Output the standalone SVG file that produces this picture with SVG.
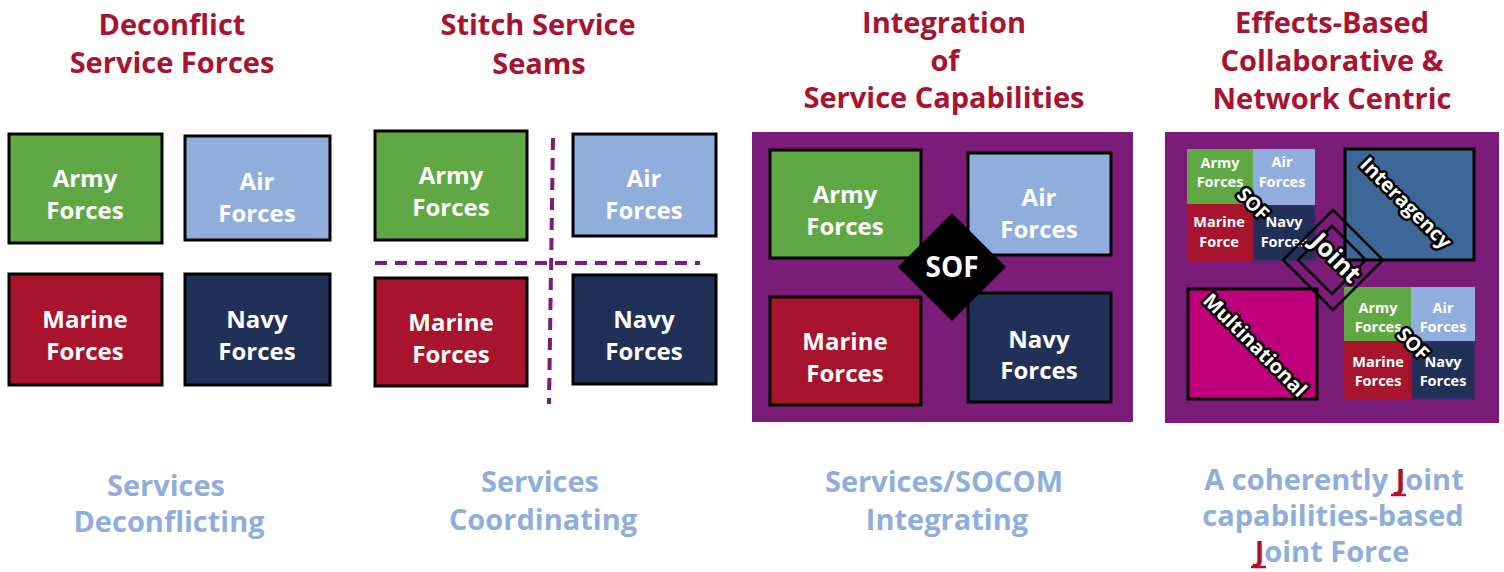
<svg xmlns="http://www.w3.org/2000/svg" width="1504" height="572" viewBox="0 0 1504 572">
<style>
.t{font-family:"Open Sans","Liberation Sans",sans-serif;font-weight:700;text-anchor:middle}
.title{fill:#A8132F;font-size:29px}
.sub{fill:#8FAEDC;font-size:29px}
.lbl{fill:#fff;font-size:24px}
.sm{fill:#fff;font-size:14.5px}
.ol{fill:#fff;stroke:#000;stroke-width:5px;paint-order:stroke;stroke-linejoin:round}
.box{stroke:#000;stroke-width:3}
.army{fill:#60A843}.air{fill:#8FAEDB}.marine{fill:#A8142D}.navy{fill:#213057}
.seam{stroke:#7C1C79;stroke-width:4;stroke-dasharray:12 8;fill:none}
.dia{fill:none;stroke:#000;stroke-width:2.5}
.ul{stroke:#A8132F;stroke-width:2.5}
</style>
<rect width="1504" height="572" fill="#fff"/>

<!-- Titles -->
<g id="titles" class="t title">
<text x="172" y="35">Deconflict</text>
<text x="172" y="73">Service Forces</text>
<text x="538" y="35">Stitch Service</text>
<text x="539" y="74">Seams</text>
<text x="944" y="33">Integration</text>
<text x="945" y="71">of</text>
<text x="944" y="108">Service Capabilities</text>
<text x="1332" y="33">Effects-Based</text>
<text x="1332" y="71">Collaborative &amp;</text>
<text x="1332" y="109">Network Centric</text>
</g>

<!-- Panel 1 -->
<g id="p1-army"><rect class="box army" x="9" y="134" width="153" height="109"/>
<text class="t lbl"><tspan x="85" y="187">Army</tspan><tspan x="85" y="219">Forces</tspan></text></g>
<g id="p1-air"><rect class="box air" x="185" y="136" width="145" height="104"/>
<text class="t lbl"><tspan x="257" y="190">Air</tspan><tspan x="257" y="222">Forces</tspan></text></g>
<g id="p1-marine"><rect class="box marine" x="9" y="274" width="153" height="111"/>
<text class="t lbl"><tspan x="85" y="328">Marine</tspan><tspan x="85" y="360">Forces</tspan></text></g>
<g id="p1-navy"><rect class="box navy" x="185" y="274" width="145" height="111"/>
<text class="t lbl"><tspan x="257" y="328">Navy</tspan><tspan x="257" y="360">Forces</tspan></text></g>

<!-- Panel 2 -->
<g id="p2-army"><rect class="box army" x="375" y="131" width="152" height="109"/>
<text class="t lbl"><tspan x="451" y="184">Army</tspan><tspan x="451" y="216">Forces</tspan></text></g>
<g id="p2-air"><rect class="box air" x="573" y="134" width="143" height="102"/>
<text class="t lbl"><tspan x="644" y="187">Air</tspan><tspan x="644" y="219">Forces</tspan></text></g>
<g id="p2-marine"><rect class="box marine" x="375" y="278" width="152" height="108"/>
<text class="t lbl"><tspan x="451" y="331">Marine</tspan><tspan x="451" y="363">Forces</tspan></text></g>
<g id="p2-navy"><rect class="box navy" x="573" y="275" width="143" height="109"/>
<text class="t lbl"><tspan x="644" y="328">Navy</tspan><tspan x="644" y="360">Forces</tspan></text></g>
<g id="p2-seams">
<line class="seam" x1="553" y1="138" x2="549" y2="404"/>
<line class="seam" x1="375" y1="263" x2="700" y2="263"/>
</g>

<!-- Panel 3 -->
<g id="p3-background"><rect x="752" y="132" width="381" height="290" fill="#7C1C79"/></g>
<g id="p3-army"><rect class="box army" x="770" y="150" width="151" height="108"/>
<text class="t lbl"><tspan x="845" y="203">Army</tspan><tspan x="845" y="235">Forces</tspan></text></g>
<g id="p3-air"><rect class="box air" x="968" y="153" width="143" height="102"/>
<text class="t lbl"><tspan x="1039" y="206">Air</tspan><tspan x="1039" y="238">Forces</tspan></text></g>
<g id="p3-marine"><rect class="box marine" x="770" y="297" width="151" height="108"/>
<text class="t lbl"><tspan x="845" y="350">Marine</tspan><tspan x="845" y="382">Forces</tspan></text></g>
<g id="p3-navy"><rect class="box navy" x="968" y="293" width="143" height="109"/>
<text class="t lbl"><tspan x="1039" y="348">Navy</tspan><tspan x="1039" y="379">Forces</tspan></text></g>
<g id="p3-sof"><polygon points="952,213 1006,267 952,321 898,267" fill="#000"/>
<text class="t" x="952" y="277" fill="#fff" font-size="28">SOF</text></g>

<!-- Panel 4 -->
<g id="p4-background"><rect x="1165" y="132" width="334" height="291" fill="#7C1C79"/></g>
<g id="p4-cluster-a">
<rect class="army" x="1187" y="149" width="66" height="55"/>
<rect class="air" x="1253" y="149" width="62" height="56"/>
<rect class="marine" x="1187" y="204" width="66" height="57"/>
<rect class="navy" x="1254" y="206" width="61" height="54" stroke="#3A2C6E" stroke-width="2"/>
<text class="t sm"><tspan x="1220" y="168">Army</tspan><tspan x="1220" y="187">Forces</tspan></text>
<text class="t sm"><tspan x="1282" y="167">Air</tspan><tspan x="1282" y="187">Forces</tspan></text>
<text class="t sm"><tspan x="1219" y="227">Marine</tspan><tspan x="1219" y="247">Force</tspan></text>
<text class="t sm"><tspan x="1284" y="227">Navy</tspan><tspan x="1284" y="247">Forces</tspan></text>
</g>
<g id="p4-interagency"><rect class="box" x="1345" y="149" width="129" height="111" fill="#3C6796"/></g>
<g id="p4-multinational"><rect class="box" x="1188" y="289" width="129" height="110" fill="#C0007A"/></g>
<g id="p4-cluster-b">
<rect class="army" x="1344" y="287" width="67" height="54"/>
<rect class="air" x="1411" y="287" width="64" height="54"/>
<rect class="marine" x="1344" y="341" width="67" height="59"/>
<rect class="navy" x="1412" y="342" width="62" height="57" stroke="#3A2C6E" stroke-width="2"/>
<text class="t sm"><tspan x="1378" y="313">Army</tspan><tspan x="1378" y="332">Forces</tspan></text>
<text class="t sm"><tspan x="1443" y="313">Air</tspan><tspan x="1443" y="332">Forces</tspan></text>
<text class="t sm"><tspan x="1378" y="367">Marine</tspan><tspan x="1378" y="386">Forces</tspan></text>
<text class="t sm"><tspan x="1443" y="367">Navy</tspan><tspan x="1443" y="386">Forces</tspan></text>
</g>
<g id="p4-joint">
<polygon class="dia" points="1333,210 1383,260 1333,310 1283,260"/>
<polygon class="dia" points="1332,226 1366,260 1332,294 1298,260"/>
</g>
<g id="p4-labels" class="t ol">
<text transform="translate(1253,204) rotate(45)" y="6.5" font-size="19">SOF</text>
<text transform="translate(1413,344) rotate(45)" y="6.5" font-size="19">SOF</text>
<text transform="translate(1406,203) rotate(45)" y="7" font-size="20">Interagency</text>
<text transform="translate(1255,345) rotate(45)" y="7" font-size="20">Multinational</text>
<text transform="translate(1336,258) rotate(45)" y="8.5" font-size="25">Joint</text>
</g>

<!-- Bottom captions -->
<g id="captions" class="t sub">
<text x="166" y="496">Services</text>
<text x="169" y="532">Deconflicting</text>
<text x="540" y="492">Services</text>
<text x="543" y="530">Coordinating</text>
<text x="944" y="492">Services/SOCOM</text>
<text x="947" y="530">Integrating</text>
<text x="1334" y="490">A coherently <tspan fill="#A8132F">J</tspan>oint</text>
<text x="1333" y="526">capabilities-based</text>
<text x="1332" y="562"><tspan fill="#A8132F">J</tspan>oint Force</text>
<line class="ul" x1="1391" y1="495" x2="1406" y2="495"/>
<line class="ul" x1="1251" y1="567" x2="1266" y2="567"/>
</g>
</svg>
